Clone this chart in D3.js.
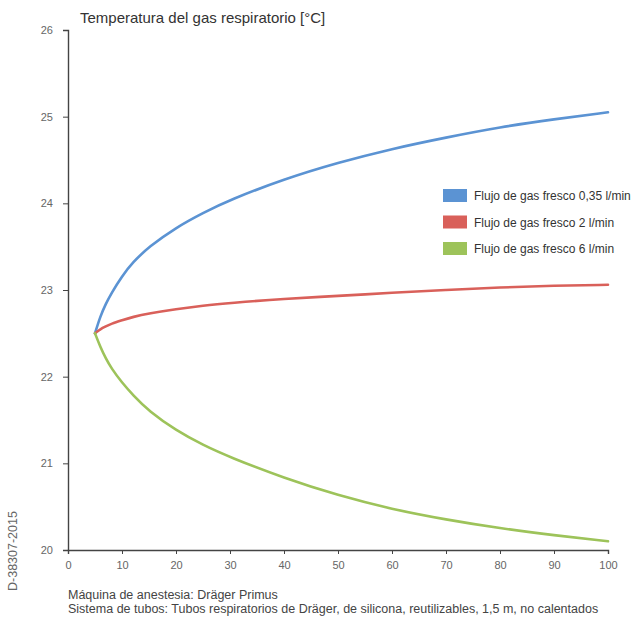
<!DOCTYPE html>
<html>
<head>
<meta charset="utf-8">
<script src="https://cdn.jsdelivr.net/npm/d3@7"></script>
<style>
  body { margin: 0; background: #fff; font-family: "Liberation Sans", Arial, sans-serif; }
  .axis path, .axis line { stroke: #444; }
  .axis text { fill: #666; font-size: 11px; font-family: "Liberation Sans", Arial, sans-serif; }
</style>
</head>
<body>
<svg id="chart" width="634" height="618"></svg>
<script>
// tiempo (min) en eje x
let xs = [5, 6, 7, 8, 10, 12, 15, 20, 25, 30, 40, 50, 60, 70, 80, 90, 100]
let blueVals  = [22.5, 22.7, 22.84, 22.96, 23.16, 23.32, 23.5, 23.72, 23.89, 24.04, 24.28, 24.47, 24.63, 24.76, 24.88, 24.97, 25.05]
let redVals   = [22.5, 22.55, 22.58, 22.61, 22.65, 22.69, 22.73, 22.78, 22.82, 22.85, 22.9, 22.93, 22.97, 23.0, 23.03, 23.05, 23.06]
let greenVals = [22.5, 22.34, 22.21, 22.1, 21.93, 21.79, 21.6, 21.38, 21.21, 21.07, 20.83, 20.63, 20.47, 20.35, 20.25, 20.17, 20.1]

let seriesNames = ['Flujo de gas fresco 0,35 l/min', 'Flujo de gas fresco 2 l/min', 'Flujo de gas fresco 6 l/min']
let seriesColors = ['#5b93d3', '#d9605a', '#9dc35a']
let xTicks = [0, 10, 20, 30, 40, 50, 60, 70, 80, 90, 100]
let yTicks = [20, 21, 22, 23, 24, 25, 26]

let svg = d3.select('#chart')

let x = d3.scaleLinear().domain([0, 100]).range([68, 608])
let y = d3.scaleLinear().domain([20, 26]).range([550, 30])

// ejes
svg.append('g')
   .attr('class', 'axis')
   .attr('transform', 'translate(0,550)')
   .call(d3.axisBottom(x).tickValues(xTicks).tickSize(4).tickPadding(7))

svg.append('g')
   .attr('class', 'axis')
   .attr('transform', 'translate(68,0)')
   .call(d3.axisLeft(y).tickValues(yTicks).tickFormat(d3.format('d')).tickSize(5).tickPadding(10))

svg.selectAll('.axis .domain').attr('stroke-width', 1.4)

// lineas (curveBasis suaviza los puntos leidos)
let allSeries = [blueVals, redVals, greenVals]
let line = d3.line()
             .x((d, i) => x(xs[i]))
             .y(d => y(d))
             .curve(d3.curveBasis)

svg.selectAll('path.serie')
   .data(allSeries)
   .enter()
   .append('path')
   .attr('class', 'serie')
   .attr('d', line)
   .attr('fill', 'none')
   .attr('stroke', (d, i) => seriesColors[i])
   .attr('stroke-width', 2.6)
   .attr('stroke-linecap', 'round')

// titulo
svg.append('text')
   .attr('x', 80)
   .attr('y', 23)
   .attr('font-size', 15)
   .attr('fill', '#333')
   .text('Temperatura del gas respiratorio [°C]')

// leyenda
let legend = svg.selectAll('g.leg')
                .data(seriesNames)
                .enter()
                .append('g')
                .attr('class', 'leg')
                .attr('transform', (d, i) => 'translate(443,' + (189 + i * 26.5) + ')')

legend.append('rect')
      .attr('width', 24)
      .attr('height', 13)
      .attr('fill', (d, i) => seriesColors[i])

legend.append('text')
      .attr('x', 31)
      .attr('y', 11)
      .attr('font-size', 12)
      .attr('fill', '#333')
      .text(d => d)

// notas al pie
svg.append('text')
   .attr('x', 68)
   .attr('y', 599)
   .attr('font-size', 12.5)
   .attr('fill', '#444')
   .text('Máquina de anestesia: Dräger Primus')

svg.append('text')
   .attr('x', 68)
   .attr('y', 613)
   .attr('font-size', 12.5)
   .attr('fill', '#444')
   .text('Sistema de tubos: Tubos respiratorios de Dräger, de silicona, reutilizables, 1,5 m, no calentados')

svg.append('text')
   .attr('transform', 'translate(17,591) rotate(-90)')
   .attr('font-size', 12.5)
   .attr('fill', '#666')
   .text('D-38307-2015')
</script>
</body>
</html>
